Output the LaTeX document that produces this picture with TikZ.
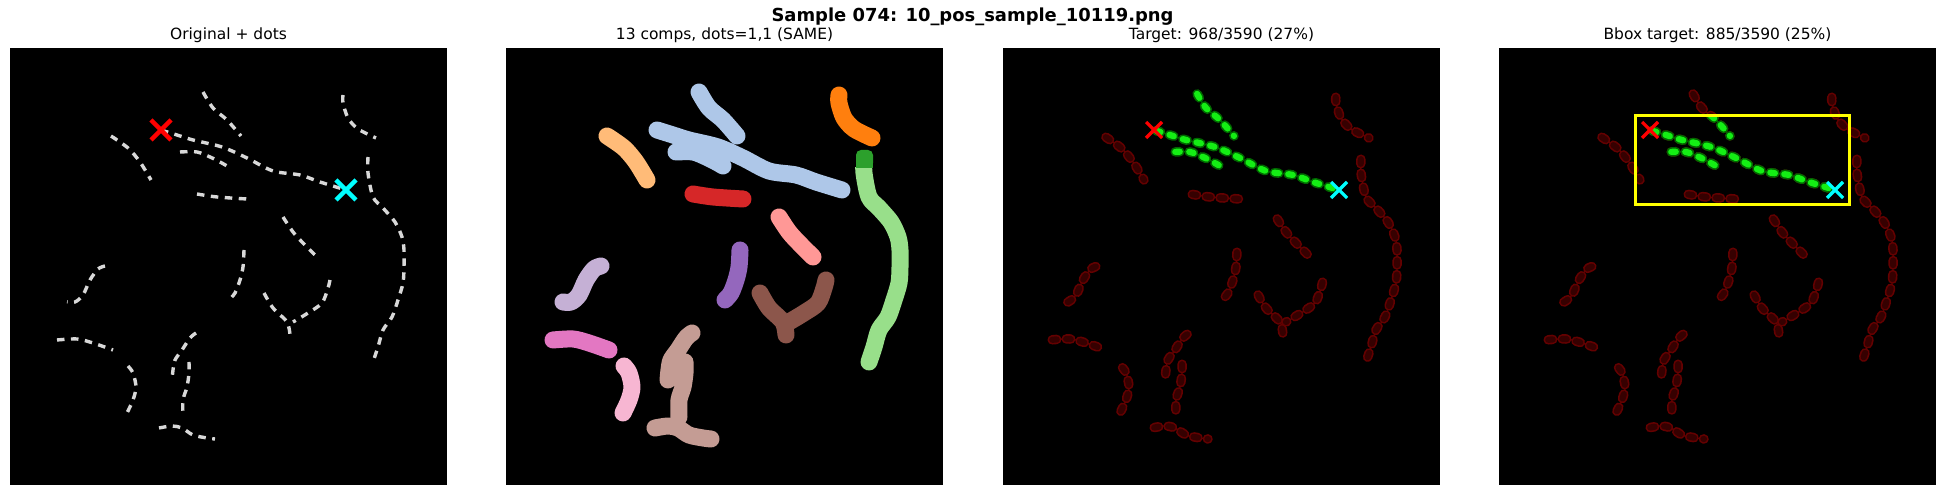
\documentclass[tikz,border=0pt]{standalone}
\usepackage{fontspec}
\setmainfont{DejaVu Sans}
\usetikzlibrary{positioning}

\definecolor{dashgray}{HTML}{D8D8D8}
\definecolor{markred}{RGB}{255,0,0}
\definecolor{markcyan}{RGB}{0,255,255}
\definecolor{boxyellow}{RGB}{255,255,0}
\definecolor{segblue}{HTML}{AEC7E8}
\definecolor{segpeach}{HTML}{FFBB78}
\definecolor{segred}{HTML}{D62728}
\definecolor{segorange}{HTML}{FF7F0E}
\definecolor{segdkgreen}{HTML}{2CA02C}
\definecolor{segltgreen}{HTML}{98DF8A}
\definecolor{segsalmon}{HTML}{FF9896}
\definecolor{segpurple}{HTML}{9467BD}
\definecolor{segbrown}{HTML}{8C564B}
\definecolor{seglavender}{HTML}{C5B0D5}
\definecolor{segpink}{HTML}{E377C2}
\definecolor{segltpink}{HTML}{F7B6D2}
\definecolor{segtan}{HTML}{C49C94}
\definecolor{hitfill}{HTML}{14EE14}
\definecolor{hitline}{HTML}{006800}
\definecolor{missfill}{HTML}{360000}
\definecolor{missline}{HTML}{640000}

% strokes of the sample, in pixels of one panel
\newcommand{\pathA}{plot[smooth] coordinates {(151,82) (167,87) (183,92) (212,99) (237,110) (263,123) (290,127) (310,134) (336,142)}}
\newcommand{\pathB}{plot[smooth] coordinates {(170,104) (187,104) (200,109) (210,114) (217,118)}}
\newcommand{\pathC}{plot[smooth] coordinates {(193,44) (203,60) (217,72) (231,88)}}
\newcommand{\pathD}{plot[smooth] coordinates {(101,88) (118,100) (130,114) (141,132)}}
\newcommand{\pathE}{plot[smooth] coordinates {(187,146) (207,149) (237,151)}}
\newcommand{\pathF}{plot[smooth] coordinates {(333,47) (333,55) (338,70) (348,81) (366,90)}}
\newcommand{\pathG}{plot[smooth] coordinates {(358,109) (358,125) (363,149) (373,160) (385,174) (392,189) (394,202) (394,219) (393,235) (388,252) (382,269) (373,282) (368,299) (363,314)}}
\newcommand{\pathH}{plot[smooth] coordinates {(273,169) (283,184) (293,195) (307,209)}}
\newcommand{\pathI}{plot[smooth] coordinates {(234,202) (233,219) (230,232) (225,245) (219,252)}}
\newcommand{\pathJ}{plot[smooth] coordinates {(254,245) (263,260) (277,274) (280,287)}}
\newcommand{\pathJJ}{plot[smooth] coordinates {(320,232) (318,240) (312,255) (298,265) (283,274)}}
\newcommand{\pathK}{plot[smooth] coordinates {(95,218) (88,221) (80,232) (73,247) (65,254) (57,254)}}
\newcommand{\pathL}{plot[smooth] coordinates {(47,292) (67,291) (83,295) (103,302)}}
\newcommand{\pathM}{plot[smooth] coordinates {(118,318) (123,325) (126,339) (123,352) (117,365)}}
\newcommand{\pathN}{plot[smooth] coordinates {(186,285) (180,290) (172,302) (165,312) (163,322) (162,332)}}
\newcommand{\pathO}{plot[smooth] coordinates {(179,314) (179,325) (177,339) (173,352) (173,369)}}
\newcommand{\pathP}{plot[smooth] coordinates {(149,380) (162,378) (172,380) (183,387) (197,390) (205,391)}}

\tikzset{
  paneltitle/.style={anchor=base, font=\fontsize{4.4}{5}\selectfont},
  mainheading/.style={anchor=base, font=\bfseries\fontsize{5.1}{6}\selectfont},
  panel/.style={fill=black},
  graydash/.style={draw=dashgray, line width=0.034cm, dash pattern=on 0.075cm off 0.065cm},
  segment/.style={draw=#1, line width=0.17cm, line cap=round, line join=round},
  blobline/.style={draw=#1, line width=0.095cm, line cap=round, dash pattern=on 0.045cm off 0.095cm, dash phase=0.1175cm},
  blobfill/.style={draw=#1, line width=0.062cm, line cap=round, dash pattern=on 0.045cm off 0.095cm, dash phase=0.1175cm},
  startmark/.style={draw=markred, line width=#1},
  endmark/.style={draw=markcyan, line width=#1},
  bboxline/.style={draw=boxyellow, line width=0.03cm}
}

\newcommand{\blobs}[3]{\foreach \c in {#1} {\draw[blobline=#2] \c; \draw[blobfill=#3] \c;}}

\begin{document}
\begin{tikzpicture}[x=0.01cm, y=-0.01cm]
\fill[white] (0,0) rectangle (1945,495);
\useasboundingbox (0,0) rectangle (1945,495);

\node[mainheading] (heading) at (972.5,22) {Sample 074: 10\_pos\_sample\_10119.png};
\node[paneltitle] (title1) at (228.5,40) {Original + dots};
\node[paneltitle] (title2) at (724.5,40) {13 comps, dots=1,1 (SAME)};
\node[paneltitle] (title3) at (1221.5,40) {Target: 968/3590 (27\%)};
\node[paneltitle] (title4) at (1717.5,40) {Bbox target: 885/3590 (25\%)};

% original + dots
\begin{scope}[shift={(10,48)}]
\fill[panel] (0,0) rectangle (437,437);
\foreach \c in {\pathA,\pathB,\pathC,\pathD,\pathE,\pathF,\pathG,\pathH,\pathI,\pathJ,\pathJJ,\pathK,\pathL,\pathM,\pathN,\pathO,\pathP}
  \draw[graydash] \c;
\draw[startmark=0.045cm] (151,82) +(-10,-10) -- +(10,10) +(-10,10) -- +(10,-10);
\draw[endmark=0.045cm] (336,142) +(-10,-10) -- +(10,10) +(-10,10) -- +(10,-10);
\end{scope}

% components
\begin{scope}[shift={(506,48)}]
\fill[panel] (0,0) rectangle (437,437);
\draw[segment=segblue] \pathA \pathB \pathC;
\draw[segment=segpeach] \pathD;
\draw[segment=segred] \pathE;
\draw[segment=segorange] \pathF;
\begin{scope}
\clip (340,120) rectangle (420,340);
\draw[segment=segltgreen] \pathG;
\end{scope}
\fill[segdkgreen, rounded corners=0.05cm] (350,102) rectangle (367,120);
\fill[segdkgreen] (350,112) rectangle (367,120);
\draw[segment=segsalmon] \pathH;
\draw[segment=segpurple] \pathI;
\draw[segment=segbrown] \pathJ \pathJJ;
\draw[segment=seglavender] \pathK;
\draw[segment=segpink] \pathL;
\draw[segment=segltpink] \pathM;
\draw[segment=segtan] \pathN \pathO \pathP;
\end{scope}

% target
\begin{scope}[shift={(1003,48)}]
\fill[panel] (0,0) rectangle (437,437);
\blobs{\pathD,\pathE,\pathF,\pathG,\pathH,\pathI,\pathJ,\pathJJ,\pathK,\pathL,\pathM,\pathN,\pathO,\pathP}{missline}{missfill}
\blobs{\pathA,\pathB,\pathC}{hitline}{hitfill}
\draw[startmark=0.032cm] (151,82) +(-8,-8) -- +(8,8) +(-8,8) -- +(8,-8);
\draw[endmark=0.032cm] (336,142) +(-8,-8) -- +(8,8) +(-8,8) -- +(8,-8);
\end{scope}

% bbox target
\begin{scope}[shift={(1499,48)}]
\fill[panel] (0,0) rectangle (437,437);
\blobs{\pathA,\pathB,\pathC,\pathD,\pathE,\pathF,\pathG,\pathH,\pathI,\pathJ,\pathJJ,\pathK,\pathL,\pathM,\pathN,\pathO,\pathP}{missline}{missfill}
\begin{scope}
\clip (136,68) rectangle (350,157);
\blobs{\pathA,\pathB,\pathC}{hitline}{hitfill}
\end{scope}
\draw[bboxline] (136,68) rectangle (350,157);
\draw[startmark=0.032cm] (151,82) +(-8,-8) -- +(8,8) +(-8,8) -- +(8,-8);
\draw[endmark=0.032cm] (336,142) +(-8,-8) -- +(8,8) +(-8,8) -- +(8,-8);
\end{scope}
\end{tikzpicture}
\end{document}
